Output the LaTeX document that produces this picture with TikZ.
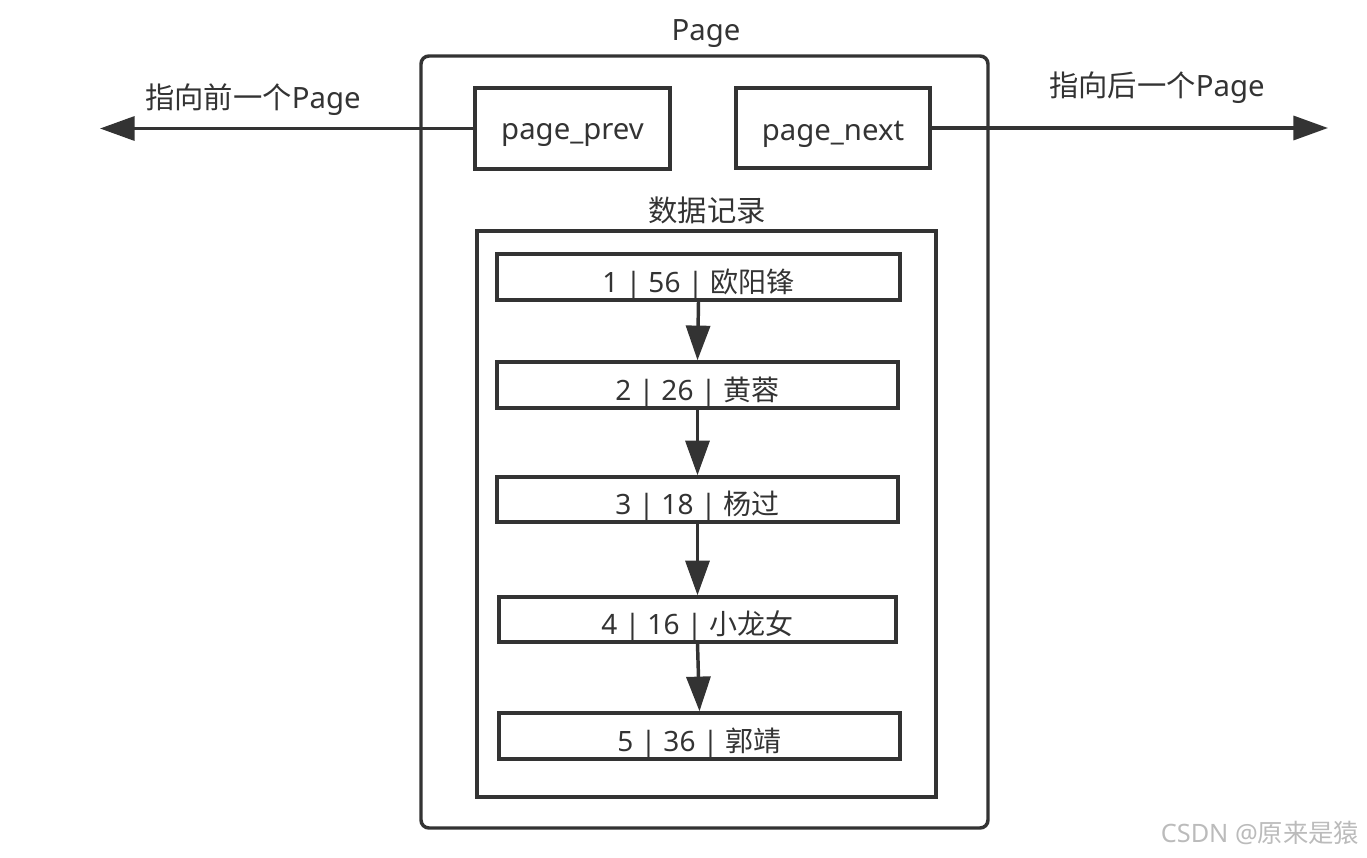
\documentclass[tikz,border=0pt]{standalone}
\usepackage{fontspec}
\setmainfont{Noto Sans}
\newfontfamily\cjk{Noto Sans CJK SC}
\usetikzlibrary{arrows.meta,calc}
\definecolor{linec}{HTML}{333333}
\definecolor{txt}{HTML}{333333}
\definecolor{wm}{HTML}{BBBBBB}
\newcommand{\lowtxt}[1]{\raisebox{-5pt}[\height][\depth]{#1}}
\tikzset{
  px/.style={x=0.75pt,y=-0.75pt},
  boxsty/.style={draw=linec,line width=2.6pt,inner sep=0pt,text=txt,font=\fontsize{22pt}{26pt}\selectfont},
  recsty/.style={boxsty,font=\fontsize{21pt}{25pt}\selectfont},
  lbl/.style={text=txt,inner sep=0pt,font=\fontsize{22pt}{26pt}\selectfont},
  arr/.style={draw=linec,line width=2.6pt,-{Triangle[length=26pt,width=18pt]}},
}
\begin{document}
\begin{tikzpicture}[px]
\useasboundingbox (0,0) rectangle (1367,857);
% outer page box
\node[boxsty,rounded corners=6pt,minimum width=567*0.75pt,minimum height=772*0.75pt] (page) at (704.5,442) {};
\node[lbl] (pagelbl) at (706,34) {Page};
% pointer boxes
\node[boxsty,minimum width=195*0.75pt,minimum height=81*0.75pt] (prev) at (572.5,128.5) {\lowtxt{page\_prev}};
\node[boxsty,minimum width=194*0.75pt,minimum height=80*0.75pt] (next) at (833,128) {\lowtxt{page\_next}};
\coordinate (lt) at (100,128);
\coordinate (rt) at (1328,128);
\draw[arr] (prev.west) -- (prev.west -| lt);
\draw[arr] (next.east) -- (next.east -| rt);
\node[lbl] (plbl) at (253,100) {{\cjk 指向前一个}Page};
\node[lbl] (nlbl) at (1157,88) {{\cjk 指向后一个}Page};
% data records
\node[lbl] (dlbl) at (707,210) {\cjk 数据记录};
\node[boxsty,minimum width=459*0.75pt,minimum height=566*0.75pt] (data) at (706.5,514) {};
\node[recsty,minimum width=403*0.75pt,minimum height=46*0.75pt] (r1) at (698.5,277) {\lowtxt{1 | 56 | {\cjk 欧阳锋}}};
\node[recsty,minimum width=401*0.75pt,minimum height=46*0.75pt] (r2) at (697.5,385) {\lowtxt{2 | 26 | {\cjk 黄蓉}}};
\node[recsty,minimum width=401*0.75pt,minimum height=45*0.75pt] (r3) at (697.5,499.5) {\lowtxt{3 | 18 | {\cjk 杨过}}};
\node[recsty,minimum width=397*0.75pt,minimum height=45*0.75pt] (r4) at (697.5,619.5) {\lowtxt{4 | 16 | {\cjk 小龙女}}};
\node[recsty,minimum width=401*0.75pt,minimum height=46*0.75pt] (r5) at (699.5,736) {\lowtxt{5 | 36 | {\cjk 郭靖}}};
\foreach \a/\b in {r1/r2,r2/r3,r3/r4,r4/r5}{
  \draw[arr] (\a.south) -- (\b.north);
}
% watermark
\node[text=wm,inner sep=0pt,font=\fontsize{19pt}{22pt}\selectfont] (wmk) at (1260,833) {CSDN @{\cjk 原来是猿}};
\end{tikzpicture}
\end{document}
